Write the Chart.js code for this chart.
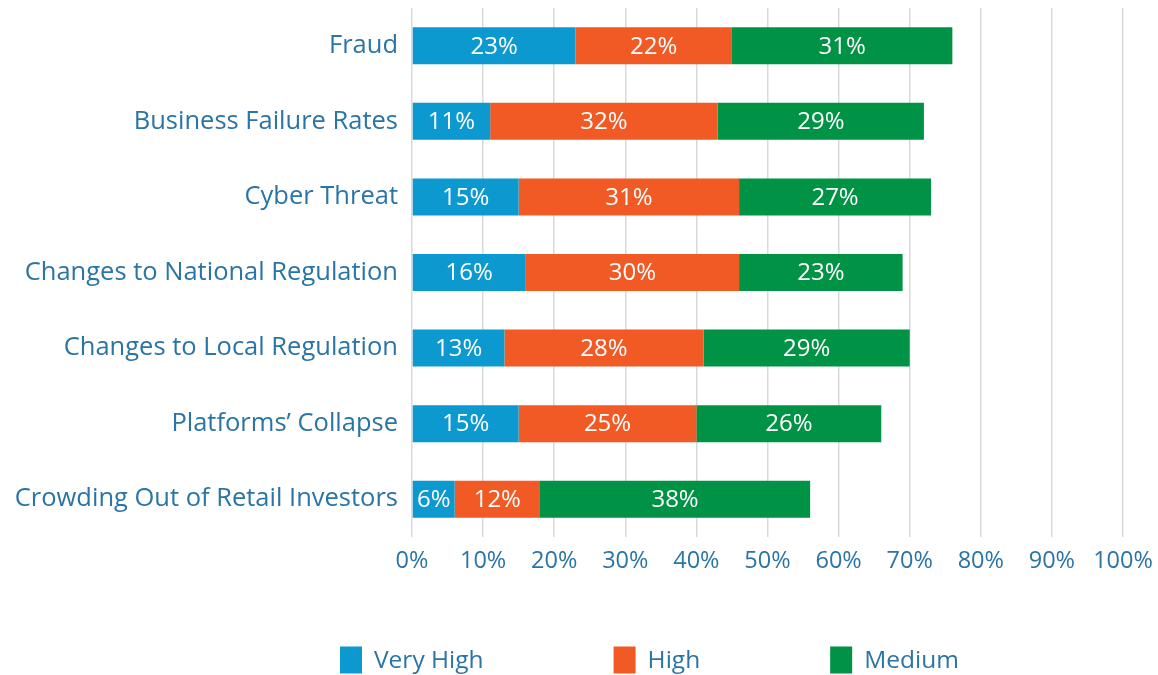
<!DOCTYPE html>
<html>
<head>
<meta charset="utf-8">
<script src="https://cdn.jsdelivr.net/npm/chart.js@4.4.0/dist/chart.umd.min.js"></script>
<style>
html,body{margin:0;padding:0;background:#fff;}
#wrap{width:1158px;height:675px;position:relative;}
</style>
</head>
<body>
<div id="wrap"><canvas id="c" width="1158" height="675"></canvas></div>
<script>
const categories = ["Fraud","Business Failure Rates","Cyber Threat","Changes to National Regulation","Changes to Local Regulation","Platforms’ Collapse","Crowding Out of Retail Investors"];
const veryHigh = [23,11,15,16,13,15,6];
const high = [22,32,31,30,28,25,12];
const medium = [31,29,27,23,29,26,38];
const seriesNames = ["Very High","High","Medium"];
const seriesColors = ["#0C99D0","#F15A24","#009245"];
const xTicks = [0,10,20,30,40,50,60,70,80,90,100];

const FONT = "'Open Sans', sans-serif";
const TXT = "#2A74A6";

const labelPlugin = {
  id:'barLabels',
  afterDatasetsDraw(chart){
    const ctx = chart.ctx;
    ctx.save();
    ctx.fillStyle = '#fff';
    ctx.font = "24px " + FONT;
    ctx.textAlign = 'center';
    ctx.textBaseline = 'middle';
    chart.data.datasets.forEach((ds,i)=>{
      const meta = chart.getDatasetMeta(i);
      meta.data.forEach((bar,j)=>{
        const p = bar.getProps(['x','y','base'],true);
        const cx = (p.x + p.base)/2;
        ctx.fillText(ds.data[j] + '%', cx, p.y + 1);
      });
    });
    ctx.restore();
  }
};

const legendPlugin = {
  id:'customLegend',
  afterDraw(chart){
    const ctx = chart.ctx;
    ctx.save();
    ctx.font = "24.5px " + FONT;
    ctx.textBaseline = 'middle';
    ctx.textAlign = 'left';
    const boxW = 22, boxH = 27, gapText = 12, gapItem = 130;
    const y = 660;
    let x = 340;
    chart.data.datasets.forEach((ds)=>{
      ctx.fillStyle = ds.backgroundColor;
      ctx.fillRect(x, y - boxH/2, boxW, boxH);
      ctx.fillStyle = TXT;
      ctx.fillText(ds.label, x + boxW + gapText, y + 1);
      x += boxW + gapText + ctx.measureText(ds.label).width + gapItem;
    });
    ctx.restore();
  }
};

new Chart(document.getElementById('c'), {
  type:'bar',
  data:{
    labels:categories,
    datasets:seriesNames.map((n,i)=>({label:n, data:[veryHigh,high,medium][i], backgroundColor:seriesColors[i]}))
  },
  options:{
    indexAxis:'y',
    responsive:false,
    animation:false,
    datasets:{bar:{categoryPercentage:1, barPercentage:0.49}},
    layout:{padding:{left:4, right:35, top:8, bottom:88}},
    scales:{
      x:{
        stacked:true, min:0, max:100,
        afterBuildTicks(s){ s.ticks = xTicks.map(v=>({value:v})); },
        afterFit(s){ s.height = 50; s.paddingLeft = 0; s.paddingRight = 0; },
        grid:{color:'#D9D9D9', lineWidth:1.5, drawTicks:false, tickLength:0},
        border:{display:false},
        ticks:{color:TXT, font:{family:FONT,size:23.5}, padding:10, callback:v=>v+'%'}
      },
      y:{
        stacked:true,
        afterFit(s){ s.width = 408; s.paddingTop = 0; s.paddingBottom = 0; },
        grid:{display:false, drawTicks:false},
        border:{display:false},
        ticks:{color:TXT, font:{family:FONT,size:25.5}, padding:14}
      }
    },
    plugins:{
      legend:{display:false},
      tooltip:{enabled:false}
    }
  },
  plugins:[labelPlugin, legendPlugin]
});
</script>
</body>
</html>
